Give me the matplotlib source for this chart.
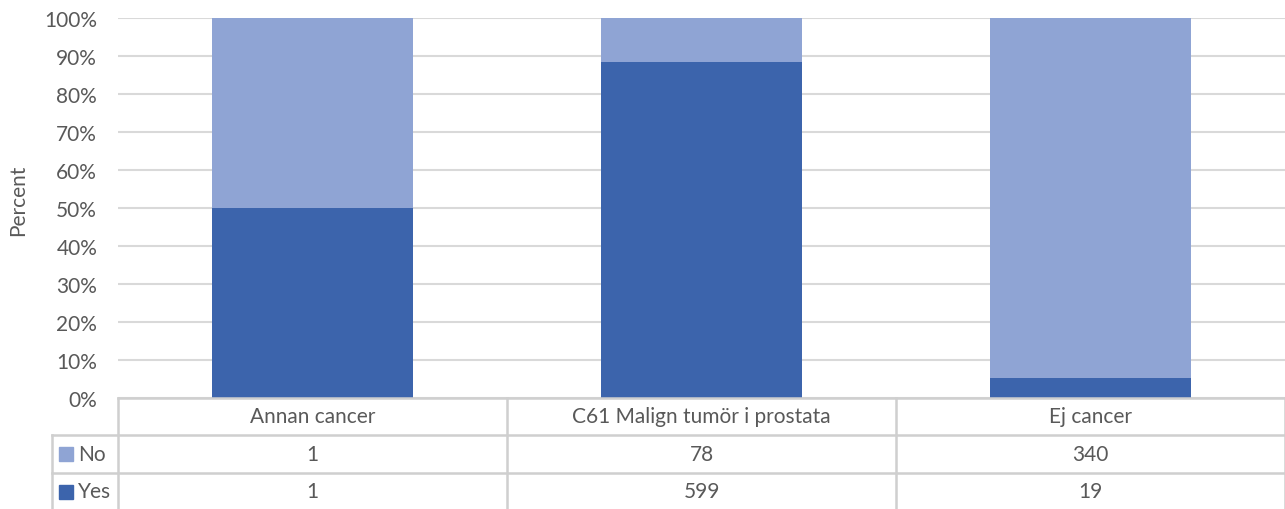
import matplotlib.pyplot as plt
from matplotlib.ticker import PercentFormatter

# Data
categories = ["Annan cancer", "C61 Malign tumör i prostata", "Ej cancer"]
no_counts = [1, 78, 340]
yes_counts = [1, 599, 19]
series_names = ["No", "Yes"]

yes_color = "#3C64AC"
no_color = "#8FA4D4"
grid_color = "#D9D9D9"
text_color = "#595959"
line_color = "#CFCFCF"
fs = 15

plt.rcParams["font.family"] = ["Lato", "DejaVu Sans"]

W, H = 1285, 510
fig = plt.figure(figsize=(W / 100, H / 100), dpi=100)

# plot area in pixels
px_left, px_right = 118, 1285
px_top, px_bottom = 19, 399
ax = fig.add_axes([px_left / W, 1 - px_bottom / H,
                   (px_right - px_left) / W, (px_bottom - px_top) / H])

totals = [n + y for n, y in zip(no_counts, yes_counts)]
yes_pct = [y / t * 100 for y, t in zip(yes_counts, totals)]
no_pct = [n / t * 100 for n, t in zip(no_counts, totals)]
x = list(range(len(categories)))

ax.bar(x, yes_pct, width=0.515, color=yes_color, zorder=3)
ax.bar(x, no_pct, bottom=yes_pct, width=0.515, color=no_color, zorder=3)

ax.set_xlim(-0.5, len(categories) - 0.5)
ax.set_ylim(0, 100)
ax.set_yticks(range(0, 101, 10))
ax.yaxis.set_major_formatter(PercentFormatter(decimals=0))
ax.tick_params(axis="y", length=0, pad=15, labelsize=fs, labelcolor=text_color)
ax.set_xticks([])
ax.grid(axis="y", color=grid_color, linewidth=1.5, zorder=0)
for s in ax.spines.values():
    s.set_visible(False)
fig.text(18 / W, 1 - 200 / H, "Percent", rotation=90, ha="center", va="center",
         fontsize=fs, color=text_color)

# data table below, in pixel coordinates
tax = fig.add_axes([0, 0, 1, 1])
tax.set_xlim(0, W)
tax.set_ylim(H, 0)
tax.axis("off")

col_edges = [px_left + i * (px_right - px_left) / len(categories)
             for i in range(len(categories) + 1)]
row_edges = [399, 436, 474, 511]
leg_left = 52

lw = 1.8
tax.plot([px_left, px_right], [row_edges[0], row_edges[0]], color=line_color, lw=lw)
for yy in row_edges[1:]:
    tax.plot([leg_left, px_right], [yy, yy], color=line_color, lw=lw)
for xx in col_edges:
    tax.plot([xx, xx], [row_edges[0], row_edges[-1]], color=line_color, lw=lw)
tax.plot([leg_left, leg_left], [row_edges[1], row_edges[-1]], color=line_color, lw=lw)

for i, cat in enumerate(categories):
    cx = (col_edges[i] + col_edges[i + 1]) / 2
    tax.text(cx, (row_edges[0] + row_edges[1]) / 2, cat, ha="center", va="center",
             fontsize=fs, color=text_color)
    tax.text(cx, (row_edges[1] + row_edges[2]) / 2, str(no_counts[i]), ha="center",
             va="center", fontsize=fs, color=text_color)
    tax.text(cx, (row_edges[2] + row_edges[3]) / 2, str(yes_counts[i]), ha="center",
             va="center", fontsize=fs, color=text_color)

for r, (name, col) in enumerate(zip(series_names, [no_color, yes_color])):
    cy = (row_edges[r + 1] + row_edges[r + 2]) / 2
    tax.add_patch(plt.Rectangle((59, cy - 7), 14, 14, color=col))
    tax.text(78, cy, name, ha="left", va="center", fontsize=fs, color=text_color)

fig.savefig("out.png", dpi=100)
